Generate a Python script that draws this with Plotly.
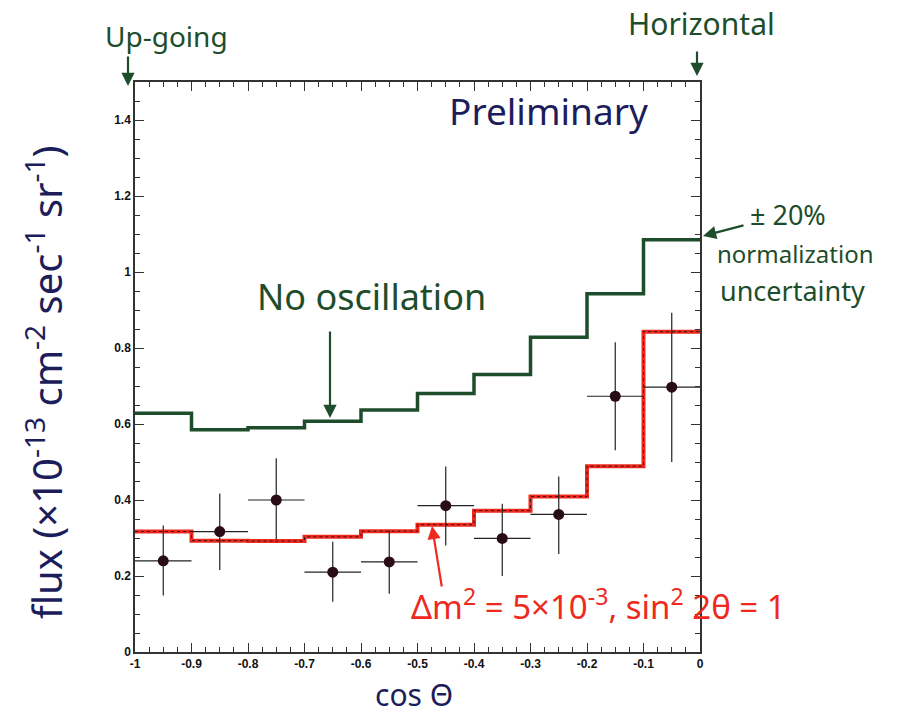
import plotly.graph_objects as go

# ---- data ----
bin_edges = [-1.0, -0.9, -0.8, -0.7, -0.6, -0.5, -0.4, -0.3, -0.2, -0.1, 0.0]
no_osc = [0.628, 0.585, 0.590, 0.607, 0.637, 0.680, 0.730, 0.828, 0.943, 1.085]
osc = [0.317, 0.293, 0.292, 0.303, 0.318, 0.335, 0.372, 0.409, 0.489, 0.843]
data_x = [-0.95, -0.85, -0.75, -0.65, -0.55, -0.45, -0.35, -0.25, -0.15, -0.05]
data_y = [0.240, 0.317, 0.400, 0.210, 0.237, 0.385, 0.299, 0.362, 0.673, 0.697]
err_up = [0.093, 0.100, 0.110, 0.080, 0.083, 0.103, 0.091, 0.100, 0.142, 0.196]
err_dn = [0.091, 0.101, 0.103, 0.078, 0.084, 0.105, 0.099, 0.104, 0.142, 0.197]
half_width = [0.05] * 10

x_ticks = [-1, -0.9, -0.8, -0.7, -0.6, -0.5, -0.4, -0.3, -0.2, -0.1, 0]
x_ticklabels = ["-1", "-0.9", "-0.8", "-0.7", "-0.6", "-0.5", "-0.4", "-0.3", "-0.2", "-0.1", "0"]
y_ticks = [0, 0.2, 0.4, 0.6, 0.8, 1.0, 1.2, 1.4]
y_ticklabels = ["0", "0.2", "0.4", "0.6", "0.8", "1", "1.2", "1.4"]

GREEN = "#1d4d2a"
RED = "#ee2a1e"
NAVY = "#1d1d5c"
HAND = "Noto Sans"

fig = go.Figure()

def step(vals):
    return list(bin_edges), list(vals) + [vals[-1]]

sx, sy = step(no_osc)
fig.add_trace(go.Scatter(x=sx, y=sy, mode="lines", line=dict(shape="hv", color=GREEN, width=3.5),
                         hoverinfo="skip", showlegend=False))
rx, ry = step(osc)
fig.add_trace(go.Scatter(x=rx, y=ry, mode="lines", line=dict(shape="hv", color=RED, width=4),
                         hoverinfo="skip", showlegend=False))
fig.add_trace(go.Scatter(x=rx, y=ry, mode="lines", line=dict(shape="hv", color="#3a1010", width=1, dash="dot"),
                         hoverinfo="skip", showlegend=False))

fig.add_trace(go.Scatter(
    x=data_x, y=data_y, mode="markers",
    marker=dict(size=11, color="#2a0c16"),
    error_x=dict(type="data", array=half_width, color="#222222", thickness=1.2, width=0),
    error_y=dict(type="data", symmetric=False, array=err_up, arrayminus=err_dn,
                 color="#222222", thickness=1.2, width=0),
    showlegend=False))

axis_common = dict(showline=True, linecolor="#333333", linewidth=1.5, mirror="ticks",
                   ticks="inside", ticklen=9, tickcolor="#333333", tickwidth=1.3,
                   showgrid=False, zeroline=False,
                   tickfont=dict(family="Liberation Sans", size=12, color="#111111", weight="bold"))

fig.update_xaxes(range=[-1, 0], tickvals=x_ticks, ticktext=x_ticklabels,
                 minor=dict(ticks="inside", dtick=0.025, ticklen=5, tickcolor="#333333", tickwidth=1.2),
                 **axis_common)
fig.update_yaxes(range=[0, 1.5], tickvals=y_ticks, ticktext=y_ticklabels,
                 minor=dict(ticks="inside", dtick=0.05, ticklen=5, tickcolor="#333333", tickwidth=1.2),
                 **axis_common)

L, R, T, B = 135, 700, 82, 652
W, H = 902, 718
def px(x):
    return (x - L) / (R - L)
def py(y):
    return (B - y) / (B - T)

def text(x, y, s, size, color, angle=0):
    fig.add_annotation(xref="paper", yref="paper", x=px(x), y=py(y), text=s, showarrow=False,
                       font=dict(family=HAND, size=size, color=color), textangle=angle,
                       xanchor="center", yanchor="middle")

def arrow(x0, y0, x1, y1, color):
    fig.add_annotation(xref="paper", yref="paper", x=px(x1), y=py(y1), ax=x0 - x1, ay=y0 - y1,
                       axref="pixel", ayref="pixel", text="", showarrow=True,
                       arrowhead=2, arrowsize=1.2, arrowwidth=2.2, arrowcolor=color)

text(166, 36, "Up-going", 28, GREEN)
arrow(128, 55, 128, 86, GREEN)
text(701, 24, "Horizontal", 30, GREEN)
arrow(697, 50, 697, 76, GREEN)
text(548, 110, "Preliminary", 37, NAVY)
text(371, 296, "No oscillation", 36, GREEN)
arrow(330, 330, 330, 418, GREEN)
text(788, 214, "± 20%", 27, GREEN)
text(795, 253, "normalization", 24, GREEN)
text(792, 290, "uncertainty", 27, GREEN)
arrow(745, 225, 703, 236, GREEN)
text(598, 604, "Δm<sup>2</sup> = 5×10<sup>-3</sup>, sin<sup>2</sup> 2θ = 1", 33, RED)
arrow(442, 588, 432, 526, RED)
text(44, 382, "flux (×10<sup>-13</sup> cm<sup>-2</sup> sec<sup>-1</sup> sr<sup>-1</sup>)", 40, NAVY, angle=-90)
text(414, 694, "cos Θ", 30, NAVY)

fig.update_layout(width=W, height=H, margin=dict(l=L, r=W - R, t=T, b=H - B),
                  plot_bgcolor="white", paper_bgcolor="white", showlegend=False)

fig.write_html("out.html")
